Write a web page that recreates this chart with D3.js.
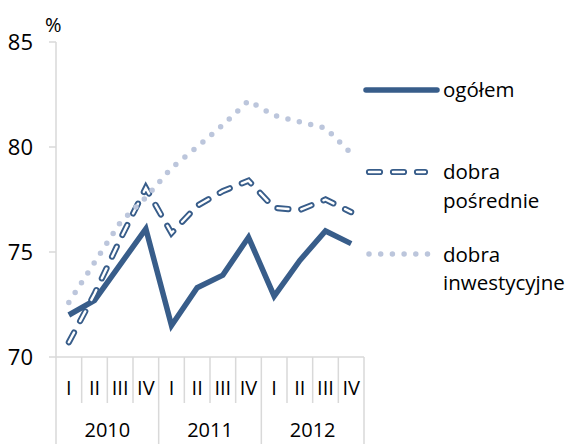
<!DOCTYPE html>
<html>
<head>
<meta charset="utf-8">
<script src="https://cdn.jsdelivr.net/npm/d3@7"></script>
<style>
  body { margin: 0; background: #fff; }
  svg { display: block; font-family: "Open Sans", sans-serif; }
</style>
</head>
<body>
<script>
// data
var quarters = ["I", "II", "III", "IV", "I", "II", "III", "IV", "I", "II", "III", "IV"];
var years = ["2010", "2011", "2012"];
var ogolem = [72.0, 72.7, 74.4, 76.1, 71.5, 73.3, 73.9, 75.7, 72.9, 74.6, 76.0, 75.4];
var posrednie = [70.7, 73.0, 75.6, 78.05, 75.9, 77.2, 77.9, 78.4, 77.1, 77.0, 77.5, 76.9];
var inwestycyjne = [72.6, 74.5, 76.4, 77.6, 79.0, 80.0, 81.05, 82.2, 81.5, 81.2, 80.9, 79.7];
var yTicks = [70, 75, 80, 85];

var W = 573, H = 444;
var mLeft = 56, mRight = 364, mTop = 42, mBottom = 357;
var blue = "#385d8a", light = "#bcc6dc", grid = "#d9d9d9";

var svg = d3.select("body").append("svg")
    .attr("width", W)
    .attr("height", H);

var idx = d3.range(quarters.length);
var x = d3.scaleBand().domain(idx).range([mLeft, mRight]);
var y = d3.scaleLinear().domain([70, 85]).range([mBottom, mTop]);
var cx = function (i) { return x(i) + x.bandwidth() / 2; };

// y axis
svg.append("line")
    .attr("x1", mLeft).attr("x2", mLeft)
    .attr("y1", y(85)).attr("y2", y(70))
    .attr("stroke", grid).attr("stroke-width", 1.5);
svg.selectAll(".ytick").data(yTicks).enter()
    .append("line")
    .attr("x1", mLeft - 7).attr("x2", mLeft)
    .attr("y1", d => y(d)).attr("y2", d => y(d))
    .attr("stroke", grid).attr("stroke-width", 1.5);
svg.selectAll(".ylab").data(yTicks).enter()
    .append("text")
    .attr("x", 33).attr("y", d => y(d) + 8)
    .attr("text-anchor", "end")
    .attr("font-size", 22)
    .text(d => d);
svg.append("text")
    .attr("x", 45).attr("y", 32)
    .attr("font-size", 20)
    .text("%");

// x axis
svg.append("line")
    .attr("x1", mLeft).attr("x2", mRight)
    .attr("y1", mBottom).attr("y2", mBottom)
    .attr("stroke", grid).attr("stroke-width", 1.5);
var seps = d3.range(quarters.length + 1);
svg.selectAll(".xsep").data(seps).enter()
    .append("line")
    .attr("x1", i => i < quarters.length ? x(i) : mRight)
    .attr("x2", i => i < quarters.length ? x(i) : mRight)
    .attr("y1", mBottom)
    .attr("y2", i => i % 4 == 0 ? H : 403)
    .attr("stroke", grid).attr("stroke-width", 1.5);
svg.selectAll(".qlab").data(idx).enter()
    .append("text")
    .attr("x", cx).attr("y", 395)
    .attr("text-anchor", "middle")
    .attr("font-size", 20)
    .text(i => quarters[i]);
svg.selectAll(".ylabel").data(years).enter()
    .append("text")
    .attr("x", (d, j) => (x(j * 4) + x(j * 4 + 3) + x.bandwidth()) / 2)
    .attr("y", 437)
    .attr("text-anchor", "middle")
    .attr("font-size", 20)
    .text(d => d);

// lines
var line = d3.line().x((d, i) => cx(i)).y(d => y(d));

svg.append("path")
    .attr("d", line(ogolem))
    .attr("fill", "none")
    .attr("stroke", blue)
    .attr("stroke-width", 5.5)
    .attr("stroke-linejoin", "miter");

function dashed(sel) {
    sel.append("path").attr("fill", "none").attr("stroke", blue)
        .attr("stroke-width", 6.2).attr("stroke-dasharray", "11 13")
        .attr("stroke-linecap", "round");
    sel.append("path").attr("fill", "none").attr("stroke", "#fff")
        .attr("stroke-width", 2.4).attr("stroke-dasharray", "11 13")
        .attr("stroke-linecap", "round");
}
var dg = svg.append("g");
dashed(dg);
dg.selectAll("path").attr("d", line(posrednie));

svg.append("path")
    .attr("d", line(inwestycyjne))
    .attr("fill", "none")
    .attr("stroke", light)
    .attr("stroke-width", 5.5)
    .attr("stroke-dasharray", "0 11.7")
    .attr("stroke-linecap", "round");

// legend
var lx1 = 366, lx2 = 437, tx = 443;
svg.append("line")
    .attr("x1", lx1).attr("x2", lx2).attr("y1", 90).attr("y2", 90)
    .attr("stroke", blue).attr("stroke-width", 5.5).attr("stroke-linecap", "round");
svg.append("text").attr("x", tx).attr("y", 97).attr("font-size", 20.5).text("ogółem");

var lg = svg.append("g");
dashed(lg);
lg.selectAll("path").attr("d", "M" + (lx1 + 3) + ",172H" + (lx2 - 12));
svg.append("text").attr("x", tx).attr("y", 179).attr("font-size", 20.5).text("dobra");
svg.append("text").attr("x", tx).attr("y", 208).attr("font-size", 20.5).text("pośrednie");

svg.append("path")
    .attr("d", "M" + (lx1 + 3) + ",254H" + (lx2 - 8))
    .attr("fill", "none")
    .attr("stroke", light).attr("stroke-width", 5.5)
    .attr("stroke-dasharray", "0 11.7").attr("stroke-linecap", "round");
svg.append("text").attr("x", tx).attr("y", 262).attr("font-size", 20.5).text("dobra");
svg.append("text").attr("x", tx).attr("y", 290).attr("font-size", 20.5).text("inwestycyjne");
</script>
</body>
</html>
